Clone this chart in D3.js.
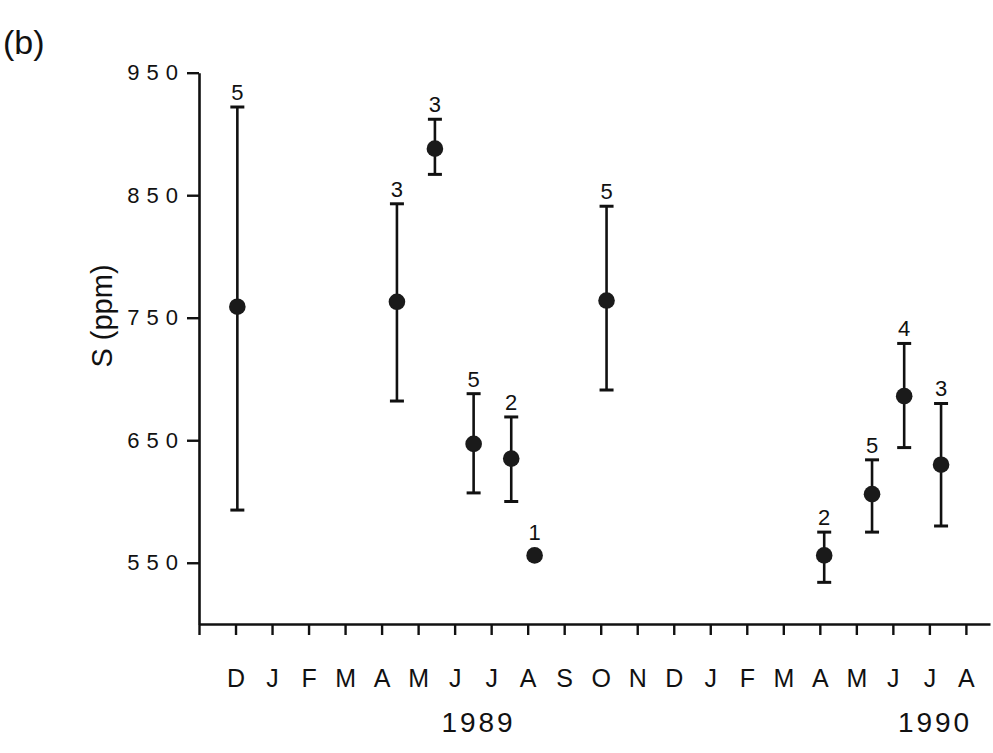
<!DOCTYPE html>
<html>
<head>
<meta charset="utf-8">
<script src="https://cdn.jsdelivr.net/npm/d3@7"></script>
<style>
  html, body { margin: 0; padding: 0; background: #fff; }
  svg { display: block; }
  text { font-family: "Liberation Sans", Arial, Helvetica, sans-serif; fill: #111; }
</style>
</head>
<body>
<svg id="chart" width="993" height="753"></svg>
<script>
// Monthly tick labels, starting with an unlabelled tick for Nov 1988
const monthLabels = ["", "D", "J", "F", "M", "A", "M", "J", "J", "A", "S",
                     "O", "N", "D", "J", "F", "M", "A", "M", "J", "J", "A"];
const yearLabels = ["1989", "1990"];
const yTicks = [550, 650, 750, 850, 950];

// Sampling dates (fractional month index, 0 = Nov 1988)
const sampleMonth = [1.05, 5.42, 6.46, 7.52, 8.55, 9.19, 11.16, 17.12, 18.43, 19.31, 20.32];
// Mean S concentration (ppm) with error bar limits and sample counts
const meanS  = [759, 763, 888, 647, 635, 556, 764, 556, 606, 686, 630];
const upperS = [922, 843, 912, 688, 669, null, 841, 575, 634, 729, 680];
const lowerS = [593, 682, 867, 607, 600, null, 691, 534, 575, 644, 580];
const sampleN = [5, 3, 3, 5, 2, 1, 5, 2, 5, 4, 3];

const svg = d3.select("#chart");
const ink = "#111";

const x = d3.scaleLinear().domain([0, 21.66]).range([199, 990]);
const y = d3.scaleLinear().domain([500, 950]).range([624, 72.7]);

// Y axis
const yAxis = svg.append("g")
  .attr("transform", "translate(199,0)")
  .call(d3.axisLeft(y).tickValues(yTicks).tickSize(12).tickSizeOuter(0).tickPadding(2));
yAxis.select(".domain").attr("stroke", ink).attr("stroke-width", 2.6);
yAxis.selectAll(".tick line").attr("stroke", ink).attr("stroke-width", 2.4);
yAxis.selectAll(".tick text")
  .style("font-size", "22px").style("letter-spacing", "7px")
  .attr("fill", ink);

// X axis with monthly ticks
const xAxis = svg.append("g")
  .attr("transform", "translate(0,624)")
  .call(d3.axisBottom(x)
    .tickValues(d3.range(monthLabels.length))
    .tickFormat(i => monthLabels[i])
    .tickSize(11).tickSizeOuter(0).tickPadding(34));
xAxis.select(".domain").attr("stroke", ink).attr("stroke-width", 2.6);
xAxis.selectAll(".tick line").attr("stroke", ink).attr("stroke-width", 2.4);
xAxis.selectAll(".tick text").style("font-size", "25px").attr("fill", ink);

// Year captions under the month labels
const yearAt = [7.6, 20.1];
svg.selectAll("text.year").data(yearLabels).join("text")
  .attr("class", "year")
  .attr("x", (d, i) => x(yearAt[i]) + 2)
  .attr("y", 732)
  .attr("text-anchor", "middle")
  .style("font-size", "28px").style("letter-spacing", "3px")
  .text(d => d);

// Y axis title
svg.append("text")
  .attr("transform", "translate(112,316) rotate(-90)")
  .attr("text-anchor", "middle")
  .style("font-size", "29px")
  .text("S  (ppm)");

// Panel letter
svg.append("text")
  .attr("x", 3).attr("y", 54)
  .style("font-size", "34px")
  .text("(b)");

// Error bars, means and sample counts
const pts = sampleMonth.map((m, i) => ({
  m, mean: meanS[i], hi: upperS[i], lo: lowerS[i], n: sampleN[i]
}));

const g = svg.append("g");
const bars = pts.filter(d => d.hi != null);
g.selectAll("line.stem").data(bars).join("line")
  .attr("x1", d => x(d.m)).attr("x2", d => x(d.m))
  .attr("y1", d => y(d.hi)).attr("y2", d => y(d.lo))
  .attr("stroke", ink).attr("stroke-width", 2.6);
["hi", "lo"].forEach(k => {
  g.selectAll("line.cap-" + k).data(bars).join("line")
    .attr("class", "cap-" + k)
    .attr("x1", d => x(d.m) - 7).attr("x2", d => x(d.m) + 7)
    .attr("y1", d => y(d[k])).attr("y2", d => y(d[k]))
    .attr("stroke", ink).attr("stroke-width", 3);
});
g.selectAll("circle").data(pts).join("circle")
  .attr("cx", d => x(d.m)).attr("cy", d => y(d.mean))
  .attr("r", 8.3).attr("fill", "#1a1a1a");
g.selectAll("text.n").data(pts).join("text")
  .attr("class", "n")
  .attr("x", d => x(d.m))
  .attr("y", d => (d.hi != null ? y(d.hi) : y(d.mean) - 8) - 7)
  .attr("text-anchor", "middle")
  .style("font-size", "22px")
  .text(d => d.n);
</script>
</body>
</html>
